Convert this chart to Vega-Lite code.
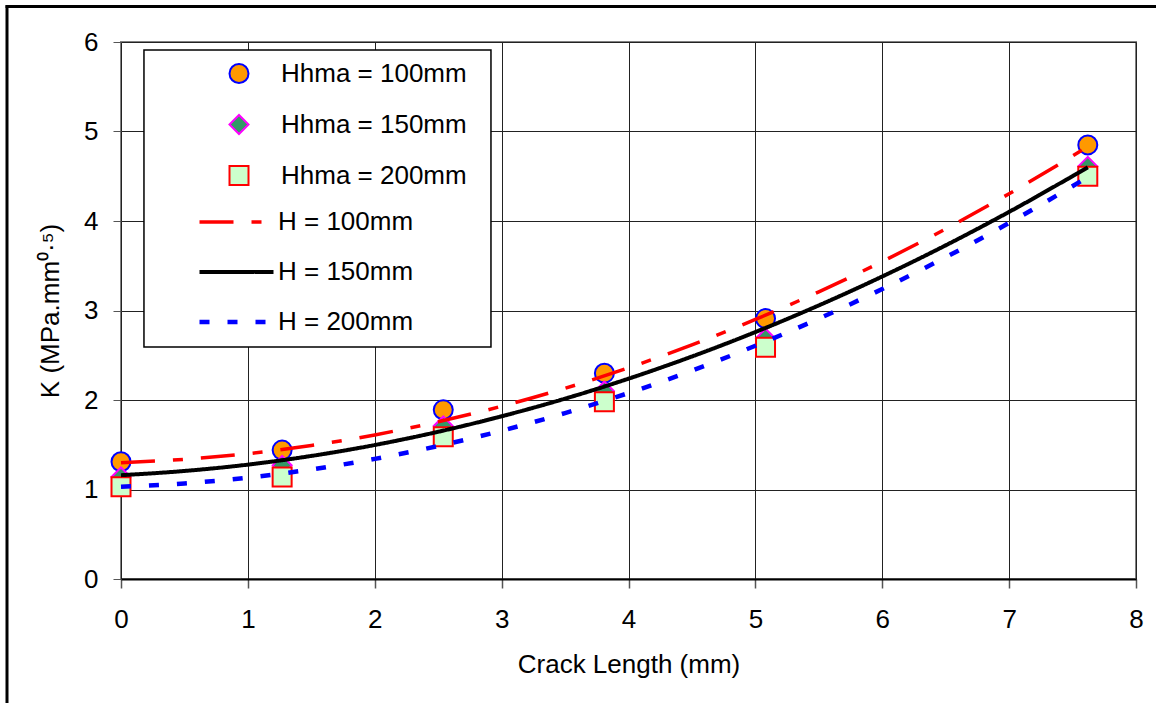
{
  "$schema": "https://vega.github.io/schema/vega-lite/v6.json",
  "width": 1015,
  "height": 537,
  "autosize": {"type": "none"},
  "padding": {"left": 121, "top": 42, "right": 20, "bottom": 124},
  "background": "white",
  "config": {
    "font": "Liberation Sans",
    "view": {"stroke": "#808080", "strokeWidth": 2},
    "axis": {
      "labelFont": "Liberation Sans",
      "titleFont": "Liberation Sans",
      "labelFontSize": 26,
      "titleFontSize": 26,
      "titleFontWeight": "normal",
      "labelColor": "#000000",
      "titleColor": "#000000",
      "gridColor": "#222222",
      "gridWidth": 1,
      "gridOpacity": 1,
      "labelFlush": false
    },
    "legend": {"labelFont": "Liberation Sans", "labelFontSize": 26, "labelColor": "#000000", "labelLimit": 400}
  },
  "datasets": {
    "pts": [
      {"x": 0, "k": 1.31, "s": "Hhma = 100mm"},
      {"x": 1.27, "k": 1.44, "s": "Hhma = 100mm"},
      {"x": 2.54, "k": 1.89, "s": "Hhma = 100mm"},
      {"x": 3.81, "k": 2.30, "s": "Hhma = 100mm"},
      {"x": 5.08, "k": 2.91, "s": "Hhma = 100mm"},
      {"x": 7.62, "k": 4.85, "s": "Hhma = 100mm"},
      {"x": 0, "k": 1.14, "s": "Hhma = 150mm"},
      {"x": 1.27, "k": 1.27, "s": "Hhma = 150mm"},
      {"x": 2.54, "k": 1.71, "s": "Hhma = 150mm"},
      {"x": 3.81, "k": 2.10, "s": "Hhma = 150mm"},
      {"x": 5.08, "k": 2.69, "s": "Hhma = 150mm"},
      {"x": 7.62, "k": 4.61, "s": "Hhma = 150mm"},
      {"x": 0, "k": 1.03, "s": "Hhma = 200mm"},
      {"x": 1.27, "k": 1.14, "s": "Hhma = 200mm"},
      {"x": 2.54, "k": 1.59, "s": "Hhma = 200mm"},
      {"x": 3.81, "k": 1.98, "s": "Hhma = 200mm"},
      {"x": 5.08, "k": 2.59, "s": "Hhma = 200mm"},
      {"x": 7.62, "k": 4.50, "s": "Hhma = 200mm"}
    ],
    "fits": [
      {"x": 0, "k": 1.30, "h": "H = 100mm"},
      {"x": 0.5, "k": 1.337, "h": "H = 100mm"},
      {"x": 1, "k": 1.40, "h": "H = 100mm"},
      {"x": 1.5, "k": 1.492, "h": "H = 100mm"},
      {"x": 2, "k": 1.61, "h": "H = 100mm"},
      {"x": 2.5, "k": 1.757, "h": "H = 100mm"},
      {"x": 3, "k": 1.93, "h": "H = 100mm"},
      {"x": 3.5, "k": 2.131, "h": "H = 100mm"},
      {"x": 4, "k": 2.36, "h": "H = 100mm"},
      {"x": 4.5, "k": 2.616, "h": "H = 100mm"},
      {"x": 5, "k": 2.90, "h": "H = 100mm"},
      {"x": 5.5, "k": 3.209, "h": "H = 100mm"},
      {"x": 6, "k": 3.547, "h": "H = 100mm"},
      {"x": 6.5, "k": 3.912, "h": "H = 100mm"},
      {"x": 7, "k": 4.305, "h": "H = 100mm"},
      {"x": 7.62, "k": 4.83, "h": "H = 100mm"},
      {"x": 0, "k": 1.16, "h": "H = 150mm"},
      {"x": 0.5, "k": 1.207, "h": "H = 150mm"},
      {"x": 1, "k": 1.278, "h": "H = 150mm"},
      {"x": 1.5, "k": 1.375, "h": "H = 150mm"},
      {"x": 2, "k": 1.497, "h": "H = 150mm"},
      {"x": 2.5, "k": 1.645, "h": "H = 150mm"},
      {"x": 3, "k": 1.818, "h": "H = 150mm"},
      {"x": 3.5, "k": 2.015, "h": "H = 150mm"},
      {"x": 4, "k": 2.238, "h": "H = 150mm"},
      {"x": 4.5, "k": 2.486, "h": "H = 150mm"},
      {"x": 5, "k": 2.759, "h": "H = 150mm"},
      {"x": 5.5, "k": 3.057, "h": "H = 150mm"},
      {"x": 6, "k": 3.38, "h": "H = 150mm"},
      {"x": 6.5, "k": 3.728, "h": "H = 150mm"},
      {"x": 7, "k": 4.102, "h": "H = 150mm"},
      {"x": 7.62, "k": 4.60, "h": "H = 150mm"},
      {"x": 0, "k": 1.03, "h": "H = 200mm"},
      {"x": 0.5, "k": 1.068, "h": "H = 200mm"},
      {"x": 1, "k": 1.133, "h": "H = 200mm"},
      {"x": 1.5, "k": 1.224, "h": "H = 200mm"},
      {"x": 2, "k": 1.342, "h": "H = 200mm"},
      {"x": 2.5, "k": 1.486, "h": "H = 200mm"},
      {"x": 3, "k": 1.657, "h": "H = 200mm"},
      {"x": 3.5, "k": 1.854, "h": "H = 200mm"},
      {"x": 4, "k": 2.078, "h": "H = 200mm"},
      {"x": 4.5, "k": 2.328, "h": "H = 200mm"},
      {"x": 5, "k": 2.606, "h": "H = 200mm"},
      {"x": 5.5, "k": 2.909, "h": "H = 200mm"},
      {"x": 6, "k": 3.24, "h": "H = 200mm"},
      {"x": 6.5, "k": 3.595, "h": "H = 200mm"},
      {"x": 7, "k": 3.979, "h": "H = 200mm"},
      {"x": 7.62, "k": 4.49, "h": "H = 200mm"}
    ]
  },
  "layer": [
    {
      "data": {"name": "pts"},
      "mark": {"type": "point", "filled": true, "size": 361, "strokeWidth": 2, "opacity": 1},
      "encoding": {
        "x": {
          "field": "x", "type": "quantitative",
          "scale": {"domain": [0, 8], "nice": false},
          "axis": {
            "title": "Crack Length (mm)",
            "values": [0, 1, 2, 3, 4, 5, 6, 7, 8],
            "format": "d",
            "labelFlush": false,
            "tickSize": 9, "tickColor": "#555555", "tickWidth": 1.5,
            "domainColor": "#000000", "domainWidth": 2,
            "labelPadding": 18, "titlePadding": 19, "grid": true
          }
        },
        "y": {
          "field": "k", "type": "quantitative",
          "scale": {"domain": [0, 6], "nice": false},
          "axis": {
            "title": "K (MPa.mm⁰·⁵)",
            "values": [0, 1, 2, 3, 4, 5, 6],
            "format": "d",
            "labelFlush": false,
            "tickSize": 8, "tickColor": "#555555", "tickWidth": 1,
            "domain": false,
            "labelPadding": 15, "titlePadding": 20, "grid": true
          }
        },
        "shape": {
          "field": "s", "type": "nominal",
          "scale": {"domain": ["Hhma = 100mm", "Hhma = 150mm", "Hhma = 200mm"], "range": ["circle", "diamond", "square"]},
          "legend": {"title": null, "orient": "none", "legendX": 105, "legendY": 6, "padding": 0, "clipHeight": 51, "rowPadding": 0, "labelOffset": 29, "symbolStrokeWidth": 2, "symbolSize": 361, "symbolOpacity": 1, "zindex": 1}
        },
        "fill": {
          "field": "s", "type": "nominal",
          "scale": {"domain": ["Hhma = 100mm", "Hhma = 150mm", "Hhma = 200mm"], "range": ["#FF9900", "#339966", "#CCFFCC"]},
          "legend": {"title": null, "orient": "none", "legendX": 105, "legendY": 6, "padding": 0, "clipHeight": 51, "rowPadding": 0, "labelOffset": 29, "symbolStrokeWidth": 2, "symbolSize": 361, "symbolOpacity": 1, "zindex": 1}
        },
        "stroke": {
          "field": "s", "type": "nominal",
          "scale": {"domain": ["Hhma = 100mm", "Hhma = 150mm", "Hhma = 200mm"], "range": ["#0000FF", "#FF00FF", "#FF0000"]},
          "legend": {"title": null, "orient": "none", "legendX": 105, "legendY": 6, "padding": 0, "clipHeight": 51, "rowPadding": 0, "labelOffset": 29, "symbolStrokeWidth": 2, "symbolSize": 361, "symbolOpacity": 1, "zindex": 1}
        }
      }
    },
    {
      "data": {"name": "fits"},
      "mark": {"type": "line", "interpolate": "monotone"},
      "encoding": {
        "x": {"field": "x", "type": "quantitative", "scale": {"domain": [0, 8], "nice": false}},
        "y": {"field": "k", "type": "quantitative", "scale": {"domain": [0, 6], "nice": false}},
        "color": {
          "field": "h", "type": "nominal",
          "scale": {"domain": ["H = 100mm", "H = 150mm", "H = 200mm"], "range": ["#FF0000", "#000000", "#0000FF"]},
          "legend": {"title": null, "orient": "none", "legendX": 76, "legendY": 155, "padding": 0, "clipHeight": 50, "rowPadding": 0, "labelOffset": 2, "symbolType": "stroke", "symbolSize": 5476, "zindex": 1}
        },
        "strokeDash": {
          "field": "h", "type": "nominal",
          "scale": {"domain": ["H = 100mm", "H = 150mm", "H = 200mm"], "range": [[34, 18, 10, 18], [1, 0], [10, 18]]},
          "legend": {"title": null, "orient": "none", "legendX": 76, "legendY": 155, "padding": 0, "clipHeight": 50, "rowPadding": 0, "labelOffset": 2, "symbolType": "stroke", "symbolSize": 5476, "zindex": 1}
        },
        "strokeWidth": {
          "field": "h", "type": "nominal",
          "scale": {"domain": ["H = 100mm", "H = 150mm", "H = 200mm"], "range": [3.5, 4.5, 3.5]},
          "legend": {"title": null, "orient": "none", "legendX": 76, "legendY": 155, "padding": 0, "clipHeight": 50, "rowPadding": 0, "labelOffset": 2, "symbolType": "stroke", "symbolSize": 5476, "zindex": 1}
        }
      }
    },
    {
      "data": {"values": [{}]},
      "mark": {"type": "rect", "fill": "white", "stroke": "black", "strokeWidth": 1.5},
      "encoding": {
        "x": {"datum": 0.181, "type": "quantitative", "scale": {"domain": [0, 8], "nice": false}},
        "x2": {"datum": 2.916},
        "y": {"datum": 5.911, "type": "quantitative", "scale": {"domain": [0, 6], "nice": false}},
        "y2": {"datum": 2.592}
      }
    },
    {
      "data": {"values": [{}]},
      "mark": {"type": "rule", "stroke": "black", "strokeWidth": 3},
      "encoding": {
        "x": {"datum": -0.8985, "type": "quantitative", "scale": {"domain": [0, 8], "nice": false}},
        "y": {"datum": 6.41, "type": "quantitative", "scale": {"domain": [0, 6], "nice": false}},
        "y2": {"datum": -1.6}
      }
    },
    {
      "data": {"values": [{}]},
      "mark": {"type": "rule", "stroke": "black", "strokeWidth": 3},
      "encoding": {
        "x": {"datum": -0.91, "type": "quantitative", "scale": {"domain": [0, 8], "nice": false}},
        "x2": {"datum": 8.4},
        "y": {"datum": 6.397, "type": "quantitative", "scale": {"domain": [0, 6], "nice": false}}
      }
    }
  ]
}
